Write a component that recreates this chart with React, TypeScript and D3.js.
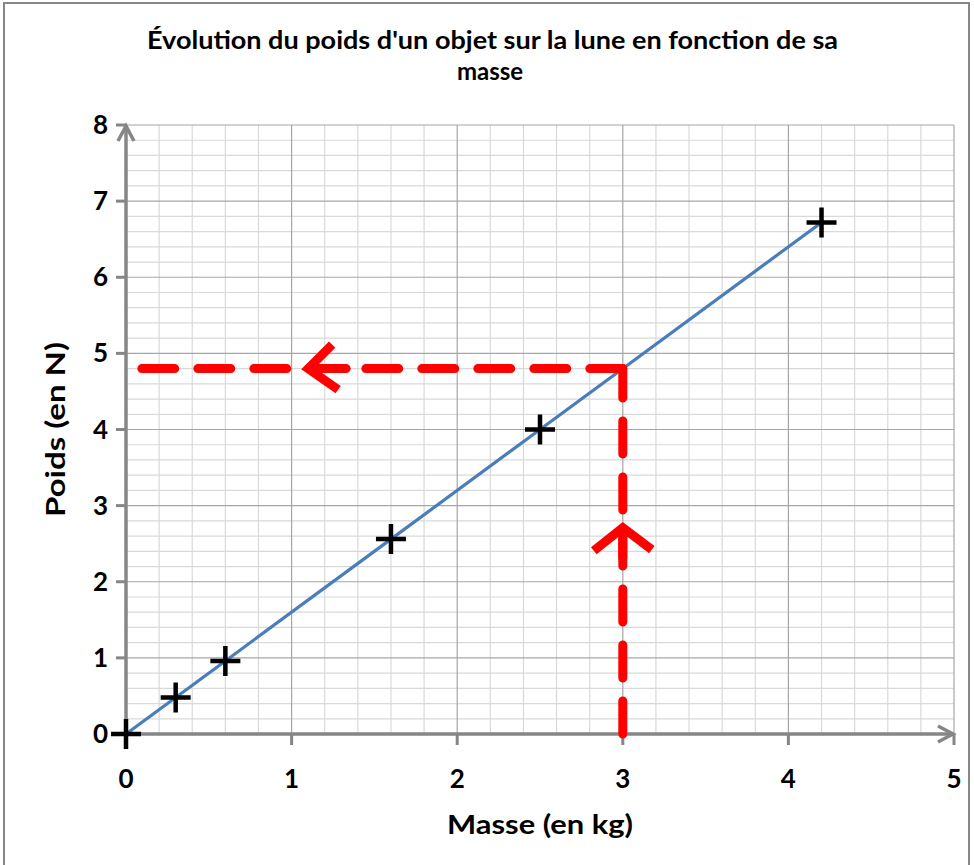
import { useEffect, useRef } from 'react';
import * as d3 from 'd3';

// measured points: mass (kg) -> weight on the moon (N)
const masses = [0, 0.3, 0.6, 1.6, 2.5, 4.2];
const weights = [0, 0.48, 0.96, 2.56, 4.0, 6.72];

const xTicks = [0, 1, 2, 3, 4, 5];
const yTicks = [0, 1, 2, 3, 4, 5, 6, 7, 8];

// reading guide: 3 kg -> 4.8 N
const guideMass = 3;
const guideWeight = 4.8;
const guideStartMass = 0.094;
const arrowLeftMass = 1.1;
const arrowUpWeight = 2.71;

const titleLines = ["Évolution du poids d'un objet sur la lune en fonction de sa", 'masse'];
const xTitle = 'Masse (en kg)';
const yTitle = 'Poids (en N)';

const W = 974;
const H = 865;
const FONT = 'Lato, "Liberation Sans", sans-serif';

export default function App() {
  const ref = useRef<SVGSVGElement>(null);

  useEffect(() => {
    if (!ref.current) return;
    const svg = d3.select(ref.current);
    svg.selectAll('*').remove();

    const x = d3.scaleLinear().domain([0, 5]).range([126, 954]);
    const y = d3.scaleLinear().domain([0, 8]).range([734, 125]);

    svg.append('rect').attr('width', W).attr('height', H).attr('fill', '#fff');
    svg.append('rect')
      .attr('x', 4).attr('y', 3).attr('width', 965).attr('height', 870)
      .attr('fill', 'none').attr('stroke', '#878787').attr('stroke-width', 2);

    // title
    const tl = [147, 838];
    svg.append('text')
      .attr('x', (tl[0] + tl[1]) / 2).attr('y', 49)
      .attr('text-anchor', 'middle')
      .attr('font-family', FONT).attr('font-size', 24).attr('font-weight', 700)
      .attr('textLength', tl[1] - tl[0]).attr('lengthAdjust', 'spacingAndGlyphs')
      .text(titleLines[0]);
    svg.append('text')
      .attr('x', 490).attr('y', 80)
      .attr('text-anchor', 'middle')
      .attr('font-family', FONT).attr('font-size', 24).attr('font-weight', 700)
      .text(titleLines[1]);

    // grid
    const minorX = d3.range(0, 5.001, 0.2).filter(v => Math.abs(v - Math.round(v)) > 1e-6);
    const minorY = d3.range(0, 8.001, 0.2).filter(v => Math.abs(v - Math.round(v)) > 1e-6);
    const grid = svg.append('g');
    grid.selectAll('.mx').data(minorX).enter().append('line')
      .attr('x1', d => x(d)).attr('x2', d => x(d))
      .attr('y1', y(0)).attr('y2', y(8))
      .attr('stroke', '#d9d9d9').attr('stroke-width', 1.2);
    grid.selectAll('.my').data(minorY).enter().append('line')
      .attr('x1', x(0)).attr('x2', x(5))
      .attr('y1', d => y(d)).attr('y2', d => y(d))
      .attr('stroke', '#d9d9d9').attr('stroke-width', 1.2);
    grid.selectAll('.Mx').data(xTicks.slice(1)).enter().append('line')
      .attr('x1', d => x(d)).attr('x2', d => x(d))
      .attr('y1', y(0)).attr('y2', y(8))
      .attr('stroke', '#a6a6a6').attr('stroke-width', 1.2);
    grid.selectAll('.My').data(yTicks.slice(1)).enter().append('line')
      .attr('x1', x(0)).attr('x2', x(5))
      .attr('y1', d => y(d)).attr('y2', d => y(d))
      .attr('stroke', '#a6a6a6').attr('stroke-width', 1.2);

    // axes
    const axisColor = '#868686';
    const ax = svg.append('g').attr('stroke', axisColor).attr('stroke-width', 3.5).attr('fill', 'none');
    ax.append('line').attr('x1', x(0)).attr('x2', x(0)).attr('y1', y(0)).attr('y2', y(8));
    ax.append('line').attr('x1', x(0)).attr('x2', x(5)).attr('y1', y(0)).attr('y2', y(0));
    ax.append('path')
      .attr('d', `M${x(0) - 8},${y(8) + 16}L${x(0)},${y(8) + 1}L${x(0) + 8},${y(8) + 16}`);
    ax.append('path')
      .attr('d', `M${x(5) - 16},${y(0) - 8}L${x(5) - 1},${y(0)}L${x(5) - 16},${y(0) + 8}`);
    ax.selectAll('.ty').data(yTicks).enter().append('line')
      .attr('x1', x(0) - 10).attr('x2', x(0))
      .attr('y1', d => y(d)).attr('y2', d => y(d)).attr('stroke-width', 3);
    ax.selectAll('.tx').data(xTicks).enter().append('line')
      .attr('x1', d => x(d)).attr('x2', d => x(d))
      .attr('y1', y(0)).attr('y2', y(0) + 11).attr('stroke-width', 3);

    // tick labels
    svg.selectAll('.ly').data(yTicks).enter().append('text')
      .attr('x', 108).attr('y', d => y(d) + 9)
      .attr('text-anchor', 'end')
      .attr('font-family', FONT).attr('font-size', 26).attr('font-weight', 700)
      .text(d => d);
    svg.selectAll('.lx').data(xTicks).enter().append('text')
      .attr('x', d => x(d)).attr('y', 788)
      .attr('text-anchor', 'middle')
      .attr('font-family', FONT).attr('font-size', 26).attr('font-weight', 700)
      .text(d => d);

    // axis titles
    svg.append('text')
      .attr('x', (x(0) + x(5)) / 2).attr('y', 834)
      .attr('text-anchor', 'middle')
      .attr('font-family', FONT).attr('font-size', 27).attr('font-weight', 700)
      .attr('textLength', 186).attr('lengthAdjust', 'spacingAndGlyphs')
      .text(xTitle);
    svg.append('text')
      .attr('transform', `translate(65,${(y(0) + y(8)) / 2}) rotate(-90)`)
      .attr('text-anchor', 'middle')
      .attr('font-family', FONT).attr('font-size', 27).attr('font-weight', 700)
      .attr('textLength', 175).attr('lengthAdjust', 'spacingAndGlyphs')
      .text(yTitle);

    // series
    const pts = masses.map((m, i) => [m, weights[i]] as [number, number]);
    const line = d3.line<[number, number]>().x(d => x(d[0])).y(d => y(d[1]));
    svg.append('path')
      .attr('d', line(pts))
      .attr('fill', 'none').attr('stroke', '#4a7ebb').attr('stroke-width', 3.2);

    // reading guide
    const red = '#ff0000';
    const guide = svg.append('g')
      .attr('stroke', red).attr('stroke-width', 9).attr('fill', 'none')
      .attr('stroke-linecap', 'round').attr('stroke-dasharray', '33 23');
    guide.append('path').attr('d', line([[guideMass, guideWeight], [guideStartMass, guideWeight]]));
    guide.append('path').attr('d', line([[guideMass, 0], [guideMass, guideWeight]]));

    const arrows = svg.append('g')
      .attr('stroke', red).attr('stroke-width', 9).attr('fill', 'none')
      .attr('stroke-linejoin', 'miter');
    const lx = x(arrowLeftMass), ly = y(guideWeight);
    arrows.append('path').attr('d', `M${lx + 24},${ly - 24}L${lx},${ly}L${lx + 30},${ly + 21}`);
    arrows.append('path').attr('d', `M${lx + 2},${ly}L${lx + 38},${ly}`).attr('stroke-linecap', 'round');
    const ux = x(guideMass), uy = y(arrowUpWeight);
    arrows.append('path').attr('d', `M${ux - 29},${uy + 23}L${ux},${uy}L${ux + 29},${uy + 22}`);
    arrows.append('path').attr('d', `M${ux},${uy + 2}L${ux},${uy + 30}`).attr('stroke-linecap', 'round');

    // markers
    svg.selectAll('.pt').data(pts).enter().append('path')
      .attr('d', d => `M${x(d[0]) - 15},${y(d[1])}h30M${x(d[0])},${y(d[1]) - 15}v30`)
      .attr('stroke', '#000').attr('stroke-width', 4.5).attr('fill', 'none');
  }, []);

  return (
    <svg
      ref={ref}
      width={W}
      height={H}
      style={{ position: 'absolute', left: 0, top: 0, display: 'block' }}
    />
  );
}
